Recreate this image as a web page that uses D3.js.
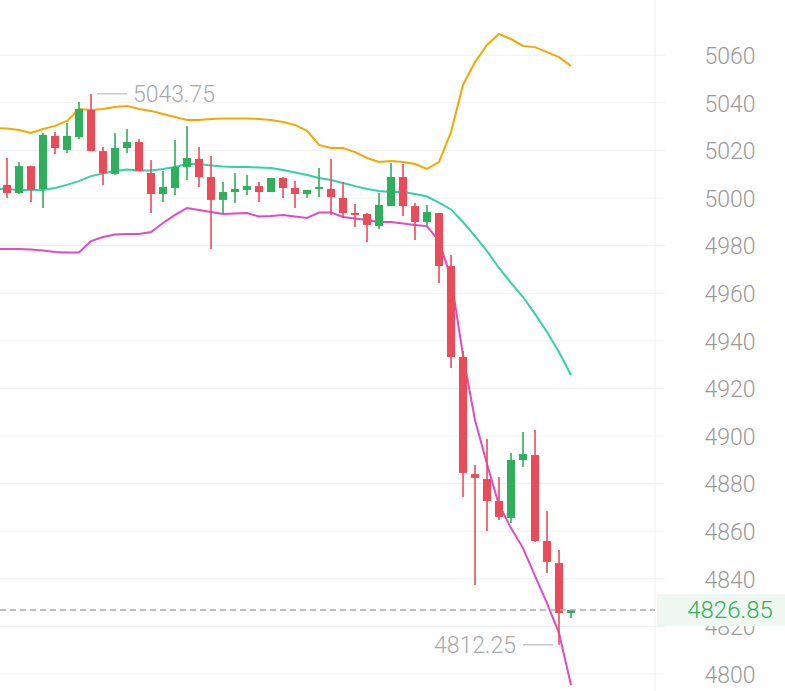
<!DOCTYPE html>
<html>
<head>
<meta charset="utf-8">
<script src="https://cdn.jsdelivr.net/npm/d3@7/dist/d3.min.js"></script>
<style>
html,body{margin:0;padding:0;background:#fff;}
svg{display:block;font-family:Roboto,"Noto Sans",sans-serif;}
</style>
</head>
<body>
<svg id="chart" width="785" height="691"></svg>
<script>
// ---- data (index -1 is the bar just off the left edge; only its band values are visible)
const opens  = [null,5005.5,5002.1,5013.4,5003.8,5026.1,5020.2,5025.6,5037.0,5019.7,5010.1,5021.0,5023.5,5010.5,5001.7,5004.2,5013.0,5016.4,5008.8,4999.2,5002.5,5003.4,5005.0,5002.5,5008.4,5004.2,5001.7,5003.8,5003.8,5000.0,4993.7,4993.3,4988.2,4996.6,5008.8,4996.6,4989.9,4993.7,4971.4,4933.2,4884.0,4881.9,4872.7,4865.5,4889.9,4892.0,4855.9,4846.6,4825.6];
const highs  = [null,5016.8,5015.1,5013.6,5027.3,5027.7,5031.5,5040.3,5043.75,5021.4,5027.3,5029.0,5024.8,5016.0,5011.3,5024.4,5030.3,5021.4,5017.6,5006.7,5010.5,5009.7,5006.7,5008.4,5008.8,5007.1,5003.4,5012.6,5016.4,5006.7,4997.5,4993.7,5002.1,5014.7,5014.3,4997.9,4997.1,4993.7,4976.1,4935.7,4887.8,4898.7,4882.8,4892.9,4901.7,4902.5,4868.5,4852.1,4826.85];
const lows   = [null,5000.0,5001.7,4998.3,4995.8,5018.5,5018.9,5024.8,5019.7,5005.5,5009.7,5018.9,5011.3,4993.7,4998.3,5001.3,5007.6,5004.6,4978.6,4993.7,4997.9,5001.3,4998.3,5002.5,5000.0,4995.8,5000.0,5000.4,4992.9,4991.6,4987.8,4981.5,4987.0,4996.6,4992.4,4982.4,4988.2,4964.3,4928.6,4874.4,4837.4,4860.1,4864.7,4863.4,4887.0,4855.5,4842.4,4812.25,4823.5];
const closes = [null,5002.1,5013.4,5003.4,5026.5,5021.0,5026.1,5037.4,5019.7,5010.5,5021.0,5023.5,5011.3,5001.7,5004.6,5013.0,5016.8,5008.8,4999.2,5002.5,5003.8,5005.0,5002.5,5008.4,5004.2,5001.7,5003.4,5004.6,5000.4,4993.7,4992.9,4988.7,4997.1,5008.8,4996.6,4989.9,4994.1,4971.4,4933.2,4884.5,4882.4,4872.7,4866.0,4889.9,4892.4,4855.9,4847.1,4825.6,4826.85];
const upperBand = [5029.4,5029.2,5028.6,5027.3,5029.0,5030.3,5032.4,5037.4,5037.0,5037.4,5038.2,5038.7,5037.4,5036.6,5035.3,5034.0,5032.8,5032.8,5033.2,5033.4,5033.4,5033.4,5033.2,5032.8,5031.9,5030.7,5028.2,5022.3,5021.0,5021.0,5019.3,5016.8,5015.1,5015.5,5015.1,5014.3,5012.2,5015.1,5027.7,5047.5,5057.1,5064.3,5068.9,5066.8,5063.9,5063.4,5061.3,5059.2,5055.5];
const midBand   = [5003.8,5003.8,5003.4,5003.4,5003.4,5004.2,5005.5,5007.1,5009.2,5010.3,5011.3,5012.0,5011.6,5011.6,5012.2,5013.0,5014.3,5014.3,5013.7,5013.2,5013.0,5013.0,5012.8,5012.6,5011.8,5010.7,5009.7,5008.4,5007.6,5006.3,5005.0,5003.8,5002.9,5002.5,5002.5,5001.7,5000.6,4998.1,4995.2,4989.9,4984.0,4977.7,4970.6,4964.3,4958.4,4951.3,4943.7,4935.3,4925.6];
const lowerBand = [4978.6,4978.6,4978.6,4978.4,4977.9,4977.3,4977.1,4977.1,4981.9,4983.6,4984.7,4984.9,4984.9,4985.7,4989.5,4992.9,4995.8,4995.0,4994.1,4993.3,4993.5,4993.7,4992.2,4992.4,4992.9,4992.2,4991.6,4993.9,4993.9,4992.0,4991.4,4990.8,4989.9,4989.9,4989.3,4988.7,4988.2,4981.9,4966.4,4934.0,4906.7,4888.2,4871.0,4861.3,4852.9,4841.2,4829.8,4817.2,4795.4];
const yTicks = [4800,4820,4840,4860,4880,4900,4920,4940,4960,4980,5000,5020,5040,5060];
const lastPrice = 4826.85;
const highMark = {index: 8, value: 5043.75, label: "5043.75"};
const lowMark  = {index: 47, value: 4812.25, label: "4812.25"};

// ---- layout
const W = 785, H = 691;
const plotRight = 655;
const svg = d3.select("#chart");
const x = d3.scaleLinear().domain([0, opens.length - 1]).range([-5, 571]);
const y = d3.scaleLinear().domain([4800, 5000]).range([674, 198]);

const up = "#2fae5c", down = "#e94b59";
const labelFont = "Roboto, sans-serif";

// gridlines
svg.append("g").selectAll("line").data(yTicks).join("line")
  .attr("x1", 0).attr("x2", 665)
  .attr("y1", d => y(d)).attr("y2", d => y(d))
  .attr("stroke", "#f1f1f1").attr("stroke-width", 1);

// vertical separator
svg.append("line").attr("x1", plotRight).attr("x2", plotRight)
  .attr("y1", 0).attr("y2", H).attr("stroke", "#efefef").attr("stroke-width", 1);

// y axis labels (right)
const axis = d3.axisRight(y).tickValues(yTicks).tickFormat(d3.format("d")).tickSize(0).tickPadding(0);
const gA = svg.append("g").attr("transform", `translate(730,1)`).call(axis);
gA.select(".domain").remove();
gA.selectAll("text").attr("text-anchor", "middle").attr("x", 0)
  .attr("fill", "#9a9a9a").attr("font-size", 23).attr("font-weight", 300).attr("font-family", labelFont);

const plot = svg.append("g");
svg.append("clipPath").attr("id", "pc").append("rect")
  .attr("x", 0).attr("y", 0).attr("width", plotRight).attr("height", H);
plot.attr("clip-path", "url(#pc)");

// bands
const idx = d3.range(opens.length);
const line = arr => d3.line().x(i => x(i)).y(i => y(arr[i]))(idx);
plot.append("path").attr("d", line(upperBand)).attr("fill", "none").attr("stroke", "#f5a900").attr("stroke-width", 2);
plot.append("path").attr("d", line(midBand)).attr("fill", "none").attr("stroke", "#33d1a7").attr("stroke-width", 2);
plot.append("path").attr("d", line(lowerBand)).attr("fill", "none").attr("stroke", "#e04bc3").attr("stroke-width", 2);

// candles
const cands = idx.filter(i => opens[i] != null);
const g = plot.append("g");
g.selectAll("line.wick").data(cands).join("line").attr("class", "wick")
  .attr("x1", i => x(i)).attr("x2", i => x(i))
  .attr("y1", i => y(highs[i])).attr("y2", i => y(lows[i]))
  .attr("stroke", i => closes[i] >= opens[i] ? up : down).attr("stroke-width", 1.6);
g.selectAll("rect.body").data(cands).join("rect").attr("class", "body")
  .attr("x", i => x(i) - 4).attr("width", 8)
  .attr("y", i => y(Math.max(opens[i], closes[i])))
  .attr("height", i => Math.max(1.5, Math.abs(y(opens[i]) - y(closes[i]))))
  .attr("fill", i => closes[i] >= opens[i] ? up : down);

// last price dashed line
plot.append("line").attr("x1", 0).attr("x2", plotRight)
  .attr("y1", y(lastPrice)).attr("y2", y(lastPrice))
  .attr("stroke", "#aaa").attr("stroke-width", 1.5).attr("stroke-dasharray", "6,4");

// high / low annotations
const hx = x(highMark.index), hy = y(highMark.value);
svg.append("line").attr("x1", hx + 6).attr("x2", hx + 36).attr("y1", hy).attr("y2", hy)
  .attr("stroke", "#aaa").attr("stroke-width", 1);
svg.append("text").attr("x", hx + 42).attr("y", hy).attr("dy", "0.35em")
  .attr("fill", "#a8a8a8").attr("font-size", 23).attr("font-weight", 300).attr("font-family", labelFont).text(highMark.label);
const lx = x(lowMark.index), ly = y(lowMark.value);
svg.append("line").attr("x1", lx - 36).attr("x2", lx - 6).attr("y1", ly).attr("y2", ly)
  .attr("stroke", "#aaa").attr("stroke-width", 1);
svg.append("text").attr("x", lx - 43).attr("y", ly).attr("dy", "0.35em").attr("text-anchor", "end")
  .attr("fill", "#a8a8a8").attr("font-size", 23).attr("font-weight", 300).attr("font-family", labelFont).text(lowMark.label);

// last price label
svg.append("rect").attr("x", 657).attr("y", y(lastPrice) - 16).attr("width", W - 657).attr("height", 32)
  .attr("fill", "#eef8f1");
svg.append("text").attr("x", 730).attr("y", y(lastPrice)).attr("dy", "0.35em").attr("text-anchor", "middle")
  .attr("fill", up).attr("font-size", 24).attr("font-weight", 300).attr("font-family", labelFont).text(lastPrice.toFixed(2));
</script>
</body>
</html>
